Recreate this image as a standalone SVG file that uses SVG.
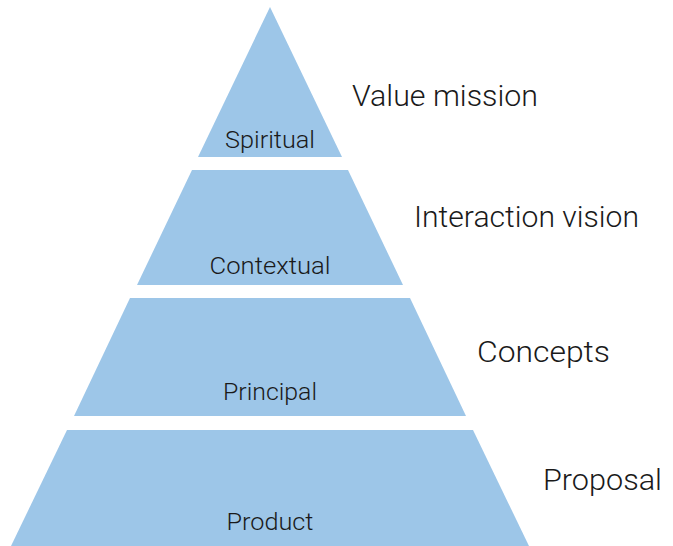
<svg xmlns="http://www.w3.org/2000/svg" width="673" height="546" viewBox="0 0 673 546">
  <style>
    .tier { fill: #9dc6e8; }
    .in { font-family: Roboto, "Liberation Sans", Arial, sans-serif; font-weight: 300; font-size: 23px; fill: #1a1a1a; text-anchor: middle; }
    .side { font-family: Roboto, "Liberation Sans", Arial, sans-serif; font-weight: 300; font-size: 30px; fill: #1a1a1a; }
  </style>
  <rect width="673" height="546" fill="#ffffff"/>
  <!-- Four slices of one triangle, apex (270,7) -->
  <g id="spiritual">
    <polygon class="tier" points="270,7 342,157 198,157"/>
    <text class="in" x="270" y="148" textLength="90" lengthAdjust="spacingAndGlyphs">Spiritual</text>
  </g>
  <g id="contextual">
    <polygon class="tier" points="192,170 348,170 403,285 137,285"/>
    <text class="in" x="270" y="274" textLength="121" lengthAdjust="spacingAndGlyphs">Contextual</text>
  </g>
  <g id="principal">
    <polygon class="tier" points="130,298 410,298 466,416 74,416"/>
    <text class="in" x="270" y="400" textLength="94" lengthAdjust="spacingAndGlyphs">Principal</text>
  </g>
  <g id="product">
    <polygon class="tier" points="67,430 473,430 529,546 11,546"/>
    <text class="in" x="270" y="530" textLength="87" lengthAdjust="spacingAndGlyphs">Product</text>
  </g>
  <!-- Side captions -->
  <g id="value-mission"><text class="side" x="352" y="106" textLength="186" lengthAdjust="spacingAndGlyphs">Value mission</text></g>
  <g id="interaction-vision"><text class="side" x="414" y="227" textLength="225" lengthAdjust="spacingAndGlyphs">Interaction vision</text></g>
  <g id="concepts"><text class="side" x="477" y="362" textLength="133" lengthAdjust="spacingAndGlyphs">Concepts</text></g>
  <g id="proposal"><text class="side" x="543" y="490" textLength="119" lengthAdjust="spacingAndGlyphs">Proposal</text></g>
  <g id="connectors"/>
</svg>
